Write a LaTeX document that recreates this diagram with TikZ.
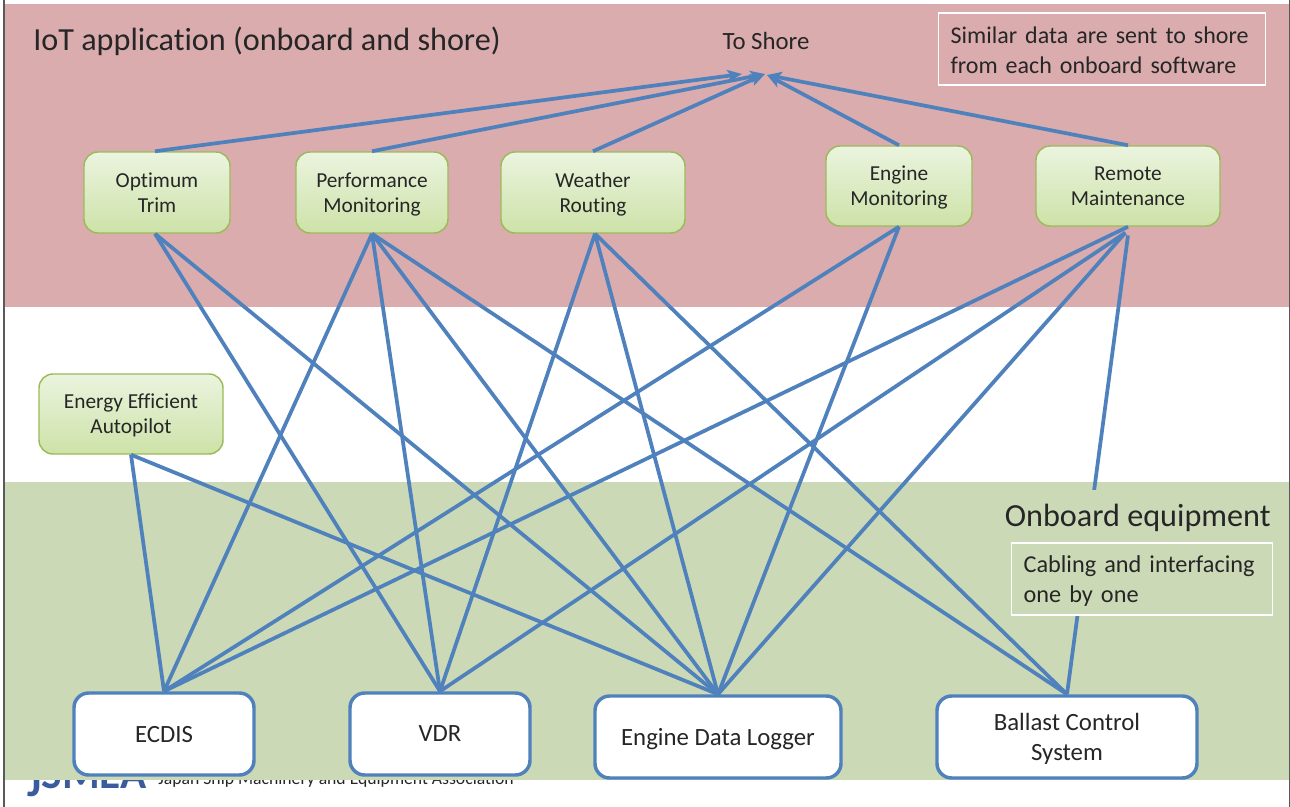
\documentclass[tikz,border=0pt]{standalone}
\usepackage{fontspec}
\setmainfont{Carlito}[Ligatures=NoCommon]
\usetikzlibrary{arrows.meta}
\definecolor{bandred}{HTML}{DBACAE}
\definecolor{bandgreen}{HTML}{CCD9B6}
\definecolor{linkblue}{HTML}{4F81BD}
\definecolor{inkdark}{HTML}{262626}
\definecolor{apptop}{HTML}{EBF4DF}
\definecolor{appbot}{HTML}{CDE2A8}
\definecolor{appedge}{HTML}{9BBB59}
\definecolor{logoblue}{HTML}{3A5C9C}
\newcommand{\fsz}[2]{\fontsize{#1}{#2}\selectfont}
\tikzset{
  boxsize/.style 2 args={minimum width=#1*0.75pt, minimum height=#2*0.75pt},
  appbox/.style={draw=appedge, line width=1.1pt, rounded corners=10.5pt, top color=apptop, bottom color=appbot,
     align=center, inner sep=0pt, text=inkdark, text depth=-3pt, font=\fsz{16}{18.75}},
  eqbox/.style={draw=linkblue, line width=2.6pt, rounded corners=11pt, fill=white,
     align=center, inner sep=0pt, text=inkdark, text depth=-0.5pt, font=\fsz{18.6}{22.5}},
  notebox/.style={draw=white, line width=0.9pt, align=left, inner sep=0pt, text=inkdark},
  titletext/.style={inner sep=0pt, text=inkdark, font=\fsz{24.15}{28}},
  link/.style={draw=linkblue, line width=2.8pt},
  uplink/.style={link, -{Stealth[length=11pt,width=9pt,inset=2.5pt]}},
}
\begin{document}
\begin{tikzpicture}[x=0.75pt,y=-0.75pt]
\useasboundingbox (0,0) rectangle (1290,807);
\fill[white] (0,0) rectangle (1290,807);
% footer, partly hidden by the green band
\node[inner sep=0pt, anchor=base west, text=logoblue, font=\fsz{32.4}{33}\bfseries] (logo) at (27,788) {\raisebox{-6.5pt}{J}SMEA};
\node[inner sep=0pt, anchor=base west, text=inkdark, font=\fsz{13.25}{16}] (assoc) at (158,784) {Japan Ship Machinery and Equipment Association};
% bands
\fill[bandred] (4,4) rectangle (1290,307);
\fill[bandgreen] (4,482) rectangle (1290,780);
\draw[black!65, line width=1.1pt] (4,0) -- (4,807);
\draw[black!65, line width=1.1pt] (1289.5,0) -- (1289.5,807);
% application boxes
\node[appbox, boxsize={146}{81}] (ot) at (157,192.5) {Optimum\\Trim};
\node[appbox, boxsize={152}{81}] (pm) at (372,192.5) {Performance\\Monitoring};
\node[appbox, boxsize={184}{81}] (wr) at (593,192.5) {Weather\\Routing};
\node[appbox, boxsize={146}{80}] (em) at (899,186) {Engine\\Monitoring};
\node[appbox, boxsize={184}{80}] (rm) at (1128,186) {Remote\\Maintenance};
\node[appbox, boxsize={184}{80}] (ap) at (131,414) {Energy Efficient\\Autopilot};
% equipment boxes
\node[eqbox, boxsize={180}{82}] (ec) at (164,734) {ECDIS};
\node[eqbox, boxsize={180}{82}] (vd) at (440,734) {VDR};
\node[eqbox, boxsize={246}{82}] (ed) at (718,737) {Engine Data Logger};
\node[eqbox, boxsize={260}{82}] (bc) at (1067,737) {Ballast Control\\System};
% shore
\node[inner sep=0pt, text=inkdark, font=\fsz{18.6}{22}] (shore) at (766,41) {To Shore};
\coordinate (tipa) at (742,74);
\coordinate (tipb) at (765,74);
\coordinate (tipc) at (767,75);
\draw[uplink] ([xshift=-1.5pt]ot.north) -- (tipa);
\draw[uplink] (pm.north) -- (tipb);
\draw[uplink] (wr.north) -- (tipb);
\draw[uplink] (em.north) -- (tipc);
\draw[uplink] (rm.north) -- (tipc);
% links
\draw[link] ([xshift=-1.5pt]ot.south) -- (vd.north);
\draw[link] ([xshift=-1.5pt]ot.south) -- (ed.north);
\draw[link] (pm.south) -- (ec.north);
\draw[link] (pm.south) -- (vd.north);
\draw[link] (pm.south) -- (ed.north);
\draw[link] (pm.south) -- (bc.north);
\draw[link] ([xshift=1.5pt]wr.south) -- (vd.north);
\draw[link] ([xshift=1.5pt]wr.south) -- (ed.north);
\draw[link] ([xshift=1.5pt]wr.south) -- (bc.north);
\draw[link] (em.south) -- (ec.north);
\draw[link] (em.south) -- (ed.north);
\draw[link] (rm.south) -- (ec.north);
\draw[link] ([xshift=-2pt,yshift=-4.5pt]rm.south) -- (vd.north);
\draw[link] ([xshift=-2pt,yshift=-4.5pt]rm.south) -- (ed.north);
\draw[link] ([yshift=-6.5pt]rm.south) -- (bc.north);
\draw[link] (ap.south) -- (ec.north);
\draw[link] (ap.south) -- (ed.north);
% titles and notes
\node[titletext, anchor=west] (iot) at (33,41) {IoT application (onboard and shore)};
\node[notebox, font=\fsz{18}{22.5}, anchor=west, text depth=21pt, minimum width=327*0.75pt, minimum height=72*0.75pt, text width=303*0.75pt] (sim) at (938,49) {Similar data are sent to shore\\from each onboard software};
\node[titletext, fill=bandgreen, anchor=east, text depth=2pt, minimum height=53*0.75pt, minimum width=272*0.75pt, align=right] (onb) at (1274,516.5) {Onboard equipment};
\node[notebox, font=\fsz{18.2}{22.5}, anchor=west, text depth=23pt, fill=bandgreen, minimum width=261*0.75pt, minimum height=72*0.75pt, text width=237*0.75pt] (cab) at (1011,579) {Cabling and interfacing\\one by one};
\end{tikzpicture}
\end{document}
